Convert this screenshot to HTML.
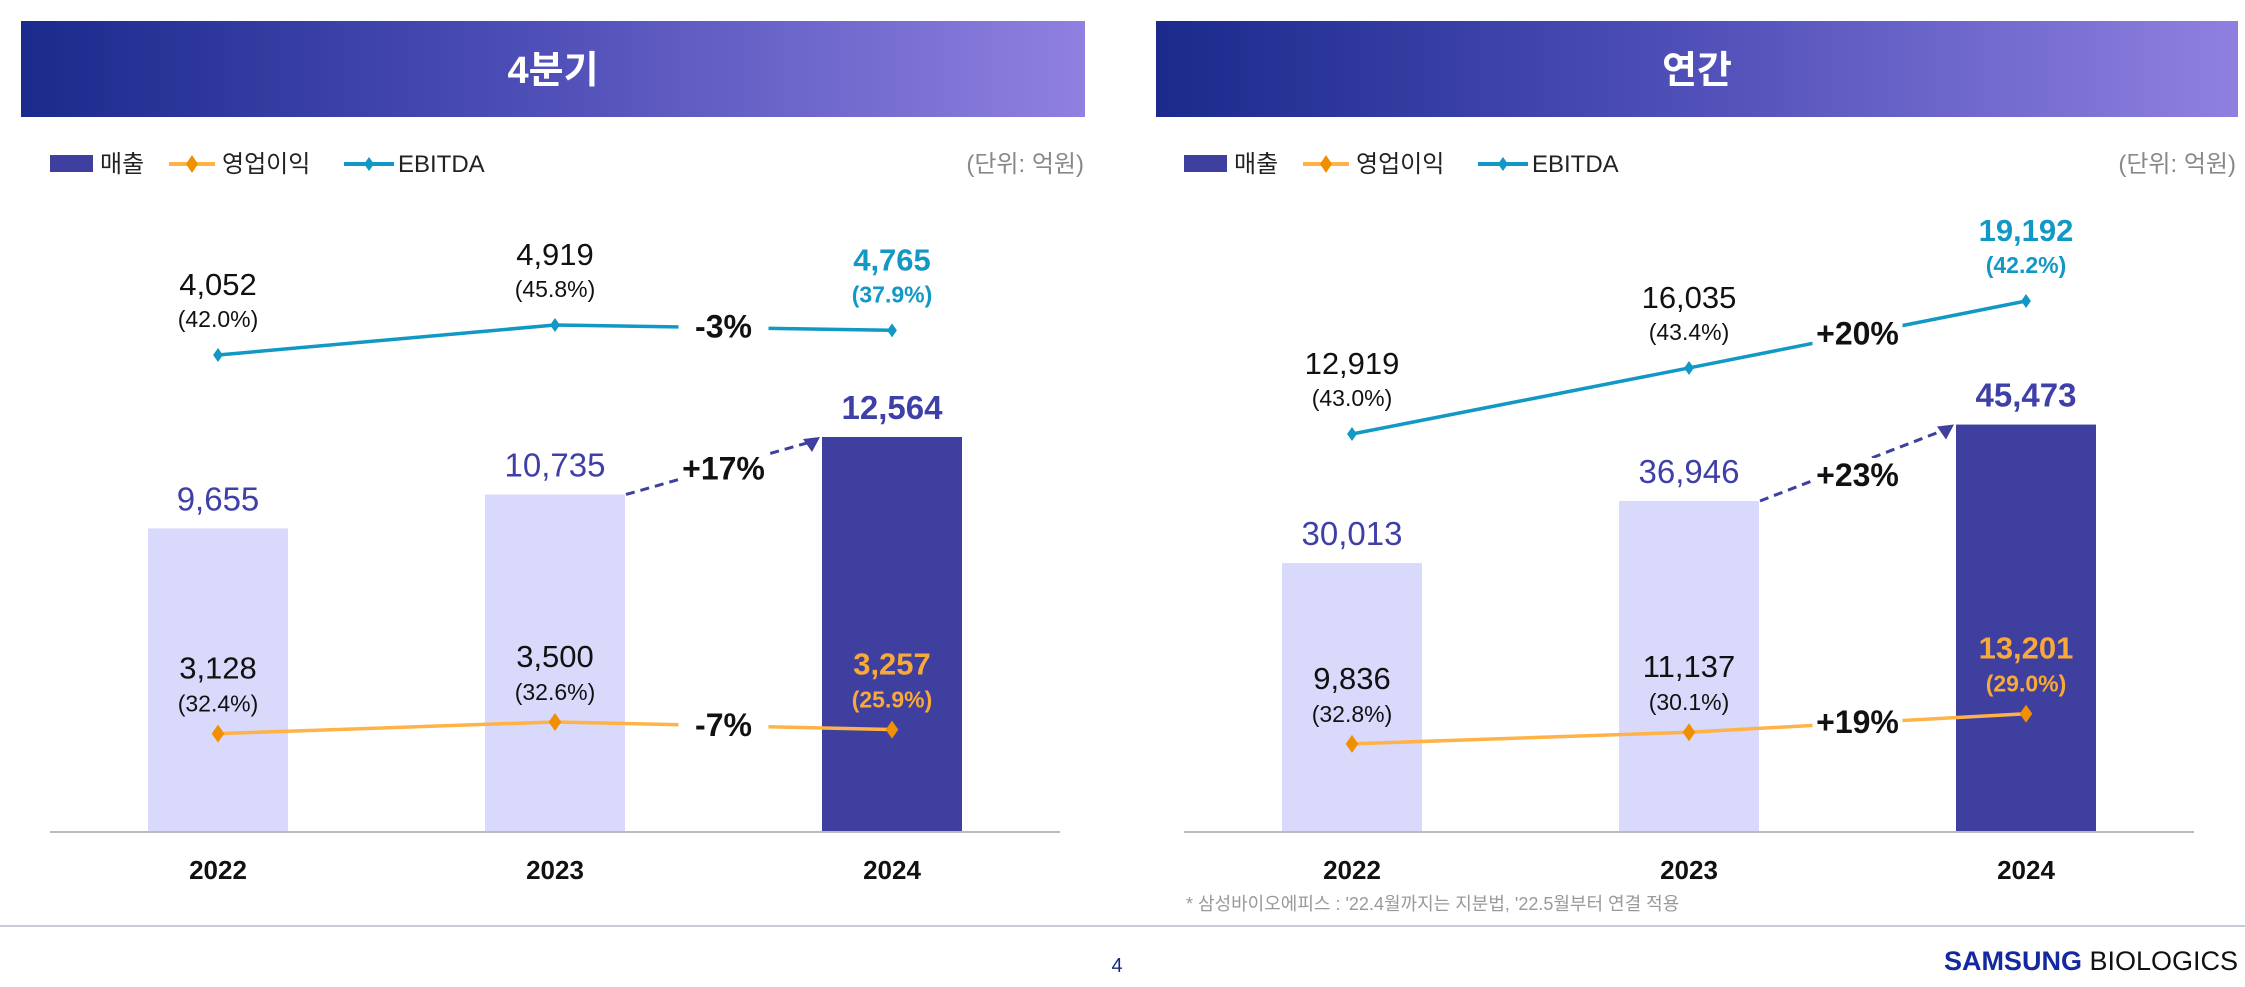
<!DOCTYPE html>
<html><head><meta charset="utf-8"><style>
html,body{margin:0;padding:0;background:#fff;}
body{width:2245px;height:982px;overflow:hidden;font-family:"Liberation Sans","Noto Sans CJK KR",sans-serif;}
svg text{font-family:"Liberation Sans","Noto Sans CJK KR",sans-serif;}
</style></head><body>
<svg id="chart" width="2245" height="982" viewBox="0 0 2245 982" xmlns="http://www.w3.org/2000/svg">
<defs>
<linearGradient id="hg" x1="0" x2="1" y1="0" y2="0"><stop offset="0" stop-color="#1b2a8c"/><stop offset="0.5" stop-color="#5050b8"/><stop offset="1" stop-color="#8f80e0"/></linearGradient>
</defs>
<rect x="21" y="21" width="1064" height="96" fill="url(#hg)"/>
<text x="553" y="83" text-anchor="middle" font-size="38" font-weight="bold" fill="#fff">4분기</text>
<rect x="1156" y="21" width="1082" height="96" fill="url(#hg)"/>
<text x="1697" y="83" text-anchor="middle" font-size="38" font-weight="bold" fill="#fff">연간</text>
<line x1="0" y1="926" x2="2245" y2="926" stroke="#c8ccd8" stroke-width="2"/>
<text x="1117" y="972" text-anchor="middle" font-size="20" fill="#1b2a7a">4</text>
<text x="2238" y="970" text-anchor="end" font-size="27"><tspan font-weight="bold" fill="#1428a0">SAMSUNG</tspan><tspan fill="#111"> BIOLOGICS</tspan></text>
<text x="1186" y="910" font-size="18" fill="#999">* 삼성바이오에피스 : '22.4월까지는 지분법, '22.5월부터 연결 적용</text>
</svg>
<script>
const categories = ["2022","2023","2024"];
const qRevenue = [9655, 10735, 12564];
const qOp = [3128, 3500, 3257];
const qOpPct = ["32.4%","32.6%","25.9%"];
const qEbitda = [4052, 4919, 4765];
const qEbitdaPct = ["42.0%","45.8%","37.9%"];
const qGrowth = ["+17%","-7%","-3%"];
const aRevenue = [30013, 36946, 45473];
const aOp = [9836, 11137, 13201];
const aOpPct = ["32.8%","30.1%","29.0%"];
const aEbitda = [12919, 16035, 19192];
const aEbitdaPct = ["43.0%","43.4%","42.2%"];
const aGrowth = ["+23%","+19%","+20%"];

const svg = document.getElementById('chart');
const NS = 'http://www.w3.org/2000/svg';
function mk(tag, attrs, parent){const e=document.createElementNS(NS,tag);for(const k in attrs)e.setAttribute(k,attrs[k]);(parent||svg).appendChild(e);return e;}
function fmt(v){return v.toLocaleString('en-US');}

function panel(cfg){
  const g = mk('g',{});
  
  
  const base = 832;
  const x = i => cfg.x0 + i*cfg.step;
  const yBar = v => base - v*cfg.barK;
  const lg = mk('g',{},g);
  
  
  const lx = cfg.left;
  mk('rect',{x:lx,y:155,width:43,height:17,fill:'#3f3fa0'},lg);
  mk('text',{x:lx+50,y:172,'font-size':24,fill:'#222'},lg).textContent='매출';
  mk('line',{x1:lx+119,y1:164,x2:lx+165,y2:164,stroke:'#ffb347','stroke-width':4},lg);
  mk('path',{d:`M${lx+142} 155 L${lx+148} 164 L${lx+142} 173 L${lx+136} 164Z`,fill:'#f09000'},lg);
  mk('text',{x:lx+172,y:172,'font-size':24,fill:'#222'},lg).textContent='영업이익';
  mk('line',{x1:lx+294,y1:164,x2:lx+344,y2:164,stroke:'#1198c4','stroke-width':4},lg);
  mk('path',{d:`M${lx+319} 157 L${lx+324} 164 L${lx+319} 171 L${lx+314} 164Z`,fill:'#1198c4'},lg);
  mk('text',{x:lx+348,y:172,'font-size':24,fill:'#222'},lg).textContent='EBITDA';
  const u = mk('text',{x:cfg.unitX,y:172,'font-size':24,fill:'#888','text-anchor':'end'},g);
  u.textContent='(단위: 억원)';
  
  
  cfg.rev.forEach((v,i)=>{
    const last = i===cfg.rev.length-1;
    const b = mk('rect',{x:x(i)-70,y:yBar(v),width:140,height:base-yBar(v),fill:last?'#3f3fa0':'#d9d9fc'},g);
    
    
    const t = mk('text',{x:x(i),y:yBar(v)-18,'text-anchor':'middle','font-size':33,fill:'#3f3fa8','font-weight':last?'bold':'normal'},g);
    t.textContent=fmt(v);
    
    
    const yl = mk('text',{x:x(i),y:879,'text-anchor':'middle','font-size':26,'font-weight':'bold',fill:'#111'},g);
    yl.textContent=categories[i];
    
    
  });
  const ax = mk('line',{x1:cfg.left,y1:base,x2:cfg.left+1010,y2:base,stroke:'#bbb','stroke-width':2},g);
  
  
  const n = cfg.rev.length;
  const ar = mk('line',{x1:x(n-2)+71,y1:yBar(cfg.rev[n-2]),x2:x(n-1)-78,y2:yBar(cfg.rev[n-1])+4,stroke:'#3f3fa0','stroke-width':3,'stroke-dasharray':'9 6'},g);
  
  
  const ex=x(n-1)-72, ey=yBar(cfg.rev[n-1]);
  mk('path',{d:`M${ex} ${ey} L${ex-17} ${ey+2} L${ex-8} ${ey+15}Z`,fill:'#3f3fa0'},g);
  function series(vals,pcts,yf,color,lineColor,labelColor,mark,name,dy1,dy2){
    const pts = vals.map((v,i)=>[x(i),yf(v)]);
    const pl = mk('polyline',{points:pts.map(p=>p.join(',')).join(' '),fill:'none',stroke:lineColor,'stroke-width':3.5},g);
    
    
    pts.forEach((p,i)=>{
      const last=i===pts.length-1;
      const m = mk('path',{d:`M${p[0]} ${p[1]-mark} L${p[0]+mark*0.7} ${p[1]} L${p[0]} ${p[1]+mark} L${p[0]-mark*0.7} ${p[1]}Z`,fill:color},g);
      
      
      const c = last?labelColor:'#111';
      const t = mk('text',{x:p[0],y:p[1]+dy1,'text-anchor':'middle','font-size':31,fill:c,'font-weight':last?'bold':'normal'},g);
      t.textContent=fmt(vals[i]);
      
      
      const t2 = mk('text',{x:p[0],y:p[1]+dy2,'text-anchor':'middle','font-size':23,fill:c,'font-weight':last?'bold':'normal'},g);
      t2.textContent='('+pcts[i]+')';
      
      
    });
  }
  series(cfg.op,cfg.opPct,yBar,'#f09000','#ffb347','#f8a937',9,'operating-profit',-55,-22);
  series(cfg.eb,cfg.ebPct,cfg.ebF,'#1198c4','#1198c4','#1198c4',7,'ebitda',-60,-28);
  const gy=[yBar(cfg.rev[n-2])-15, (yBar(cfg.op[n-2])+yBar(cfg.op[n-1]))/2+10, (cfg.ebF(cfg.eb[n-2])+cfg.ebF(cfg.eb[n-1]))/2+10];
  const gn=['revenue-growth','op-growth','ebitda-growth'];
  cfg.growth.forEach((s,k)=>{
    const cx=(x(n-2)+x(n-1))/2;
    mk('rect',{x:cx-45,y:gy[k]-28,width:90,height:38,fill:'#fff'},g);
    const t = mk('text',{x:cx,y:gy[k],'text-anchor':'middle','font-size':32,'font-weight':'bold',fill:'#111'},g);
    t.textContent=s;
    
    
  });
}
panel({name:'quarterly-panel',left:50,unitX:1084,x0:218,step:337,barK:0.03144,rev:qRevenue,op:qOp,opPct:qOpPct,eb:qEbitda,ebPct:qEbitdaPct,growth:qGrowth,
  ebF:v=>355-(v-4052)*0.0346});
panel({name:'annual-panel',left:1184,unitX:2236,x0:1352,step:337,barK:0.00896,rev:aRevenue,op:aOp,opPct:aOpPct,eb:aEbitda,ebPct:aEbitdaPct,growth:aGrowth,
  ebF:v=>434-(v-12919)*0.0212});
</script>
</body></html>
